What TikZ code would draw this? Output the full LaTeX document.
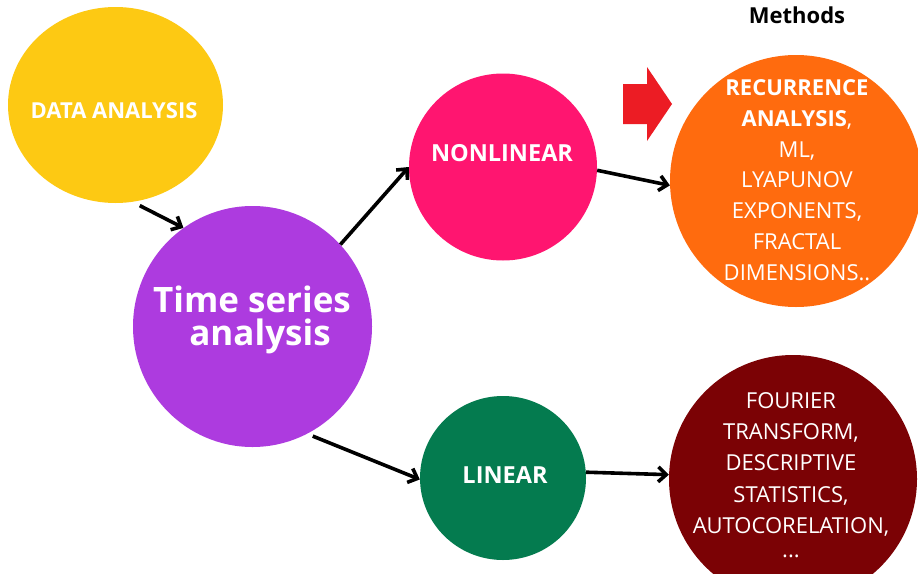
\documentclass[tikz,border=0pt]{standalone}
\usepackage{fontspec}
\setmainfont{Open Sans}
\usetikzlibrary{shapes.geometric,arrows.meta}
\definecolor{cyellow}{HTML}{FDC913}
\definecolor{cpurple}{HTML}{AD3BDF}
\definecolor{cpink}{HTML}{FF1570}
\definecolor{cgreen}{HTML}{047B4F}
\definecolor{corange}{HTML}{FF6B0E}
\definecolor{cdarkred}{HTML}{7B0205}
\definecolor{cred}{HTML}{EC1C24}
\tikzset{
  blob/.style={ellipse, inner sep=0pt, draw=none},
  conn/.style={line width=3.6pt, -{Straight Barb[length=8pt,width=15pt,line width=3.6pt]}},
  lbl/.style={anchor=base, text=white, inner sep=0pt, font=\fontsize{22}{26}\selectfont},
  blbl/.style={lbl, font=\fontsize{22}{26}\selectfont\bfseries},
}
\begin{document}
\begin{tikzpicture}[x=1pt,y=-1pt]
\useasboundingbox (0,0) rectangle (918,573);
\fill[white] (0,0) rectangle (918,573);
% shapes
\node[blob, fill=cyellow, minimum width=215pt, minimum height=196pt] (da) at (115.5,105) {};
\node[blob, fill=cpurple, minimum width=239pt, minimum height=241pt] (ts) at (252.5,326.5) {};
\node[blob, fill=cpink, minimum width=188pt, minimum height=187pt] (nl) at (503,167) {};
\node[blob, fill=cgreen, minimum width=166pt, minimum height=164pt] (li) at (503,478) {};
\node[blob, fill=corange, minimum width=252pt, minimum height=252pt] (or) at (796,181) {};
\node[blob, fill=cdarkred, minimum width=248pt, minimum height=248pt] (dr) at (793,479) {};
% red block arrow
\fill[cred] (623,84) -- (647,84) -- (647,67) -- (672,104) -- (647,141) -- (647,124) -- (623,124) -- cycle;
% texts
\node[blbl, text=black] (meth) at (797,23) {Methods};
\node[blbl] (tda) at (114,118) {DATA ANALYSIS};
\node[blbl, font=\fontsize{35}{40}\selectfont\bfseries] (tts1) at (252,312) {Time series};
\node[blbl, font=\fontsize{35}{40}\selectfont\bfseries] (tts2) at (260,345) {analysis};
\node[blbl, font=\fontsize{23.5}{28}\selectfont\bfseries] (tnl) at (502,161.5) {NONLINEAR};
\node[blbl, font=\fontsize{23.5}{28}\selectfont\bfseries] (tli) at (505,483) {LINEAR};
% orange text
\node[blbl] (o1) at (797,95) {RECURRENCE};
\node[lbl] (o2) at (797,126) {\textbf{ANALYSIS},};
\node[lbl] (o3) at (797,157) {ML,};
\node[lbl] (o4) at (797,187) {LYAPUNOV};
\node[lbl] (o5) at (797,218) {EXPONENTS,};
\node[lbl] (o6) at (797,249) {FRACTAL};
\node[lbl] (o7) at (797,280) {DIMENSIONS..};
% dark red text
\node[lbl] (d1) at (791,408) {FOURIER};
\node[lbl] (d2) at (791,439) {TRANSFORM,};
\node[lbl] (d3) at (791,470) {DESCRIPTIVE};
\node[lbl] (d4) at (791,502) {STATISTICS,};
\node[lbl] (d5) at (791,533) {AUTOCORELATION,};
\node[lbl] (d6) at (791,557) {...};
% connectors
\draw[conn, shorten <=8pt] (da.-80) -- (ts.125);
\draw[conn] (ts.43) -- (nl.180);
\draw[conn] (nl.-2) -- (or.182);
\draw[conn, shorten <=6pt] (ts.-63) -- (li.181);
\draw[conn] (li.4) -- (dr.178);
\end{tikzpicture}
\end{document}
